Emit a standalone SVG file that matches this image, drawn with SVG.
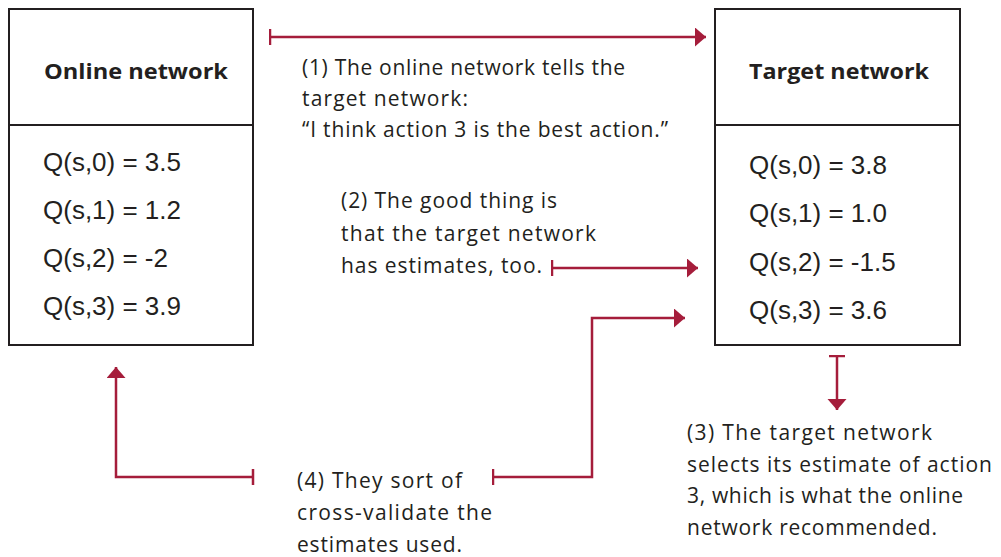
<svg xmlns="http://www.w3.org/2000/svg" width="1001" height="557" viewBox="0 0 1001 557">
<style>
.box{fill:#fff;stroke:#231f20;stroke-width:2}
.title{font-family:"Open Sans","Liberation Sans",sans-serif;font-weight:bold;font-size:22px;fill:#231f20}
.q{font-family:"Liberation Sans",Arial,sans-serif;font-size:26px;fill:#231f20}
.note{font-family:"Open Sans","Liberation Sans",sans-serif;font-size:21px;fill:#231f20}
.conn{fill:none;stroke:#a51d3b;stroke-width:2.5}
</style>
<defs>
<marker id="head" markerUnits="userSpaceOnUse" markerWidth="12" markerHeight="20" refX="11" refY="9.5" orient="auto">
<path d="M0,0 L11,9.5 L0,19 Z" fill="#a51d3b"/>
</marker>
<marker id="tick" markerUnits="userSpaceOnUse" markerWidth="4" markerHeight="18" refX="1.5" refY="8" orient="auto">
<path d="M1.5,0 L1.5,16" stroke="#a51d3b" stroke-width="2.5"/>
</marker>
</defs>
<rect width="1001" height="557" fill="#fff"/>
<g id="online">
<rect class="box" x="9" y="9" width="244" height="336"/>
<line class="box" x1="9" y1="125" x2="253" y2="125"/>
<text class="title" x="44" y="79" textLength="184" lengthAdjust="spacingAndGlyphs">Online network</text>
<text class="q" x="43" y="171">Q(s,0) = 3.5</text>
<text class="q" x="43" y="219">Q(s,1) = 1.2</text>
<text class="q" x="43" y="267">Q(s,2) = -2</text>
<text class="q" x="43" y="315">Q(s,3) = 3.9</text>
</g>
<g id="target">
<rect class="box" x="715" y="9" width="245" height="336"/>
<line class="box" x1="715" y1="125" x2="960" y2="125"/>
<text class="title" x="749" y="79" textLength="180" lengthAdjust="spacingAndGlyphs">Target network</text>
<text class="q" x="749" y="174">Q(s,0) = 3.8</text>
<text class="q" x="749" y="222">Q(s,1) = 1.0</text>
<text class="q" x="749" y="271">Q(s,2) = -1.5</text>
<text class="q" x="749" y="319">Q(s,3) = 3.6</text>
</g>
<g id="connectors">
<path class="conn" d="M270,37 L706,37" marker-start="url(#tick)" marker-end="url(#head)"/>
<path class="conn" d="M552,268 L698,268" marker-start="url(#tick)" marker-end="url(#head)"/>
<path class="conn" d="M493,477 L592,477 L592,318 L685,318" marker-start="url(#tick)" marker-end="url(#head)"/>
<path class="conn" d="M253,477 L116,477 L116,367" marker-start="url(#tick)" marker-end="url(#head)"/>
<path class="conn" d="M837,356 L837,410" marker-start="url(#tick)" marker-end="url(#head)"/>
</g>
<g id="note1">
<text class="note" x="302" y="75" textLength="323">(1) The online network tells the</text>
<text class="note" x="302" y="106" textLength="166">target network:</text>
<text class="note" x="302" y="137" textLength="366">“I think action 3 is the best action.”</text>
</g>
<g id="note2">
<text class="note" x="341" y="208" textLength="216">(2) The good thing is</text>
<text class="note" x="341" y="241" textLength="255">that the target network</text>
<text class="note" x="341" y="273" textLength="201">has estimates, too.</text>
</g>
<g id="note3">
<text class="note" x="687" y="440" textLength="245">(3) The target network</text>
<text class="note" x="687" y="472" textLength="305">selects its estimate of action</text>
<text class="note" x="687" y="503" textLength="276">3, which is what the online</text>
<text class="note" x="687" y="535" textLength="250">network recommended.</text>
</g>
<g id="note4">
<text class="note" x="297" y="488" textLength="165">(4) They sort of</text>
<text class="note" x="297" y="520" textLength="195">cross-validate the</text>
<text class="note" x="297" y="552" textLength="165">estimates used.</text>
</g>
</svg>
